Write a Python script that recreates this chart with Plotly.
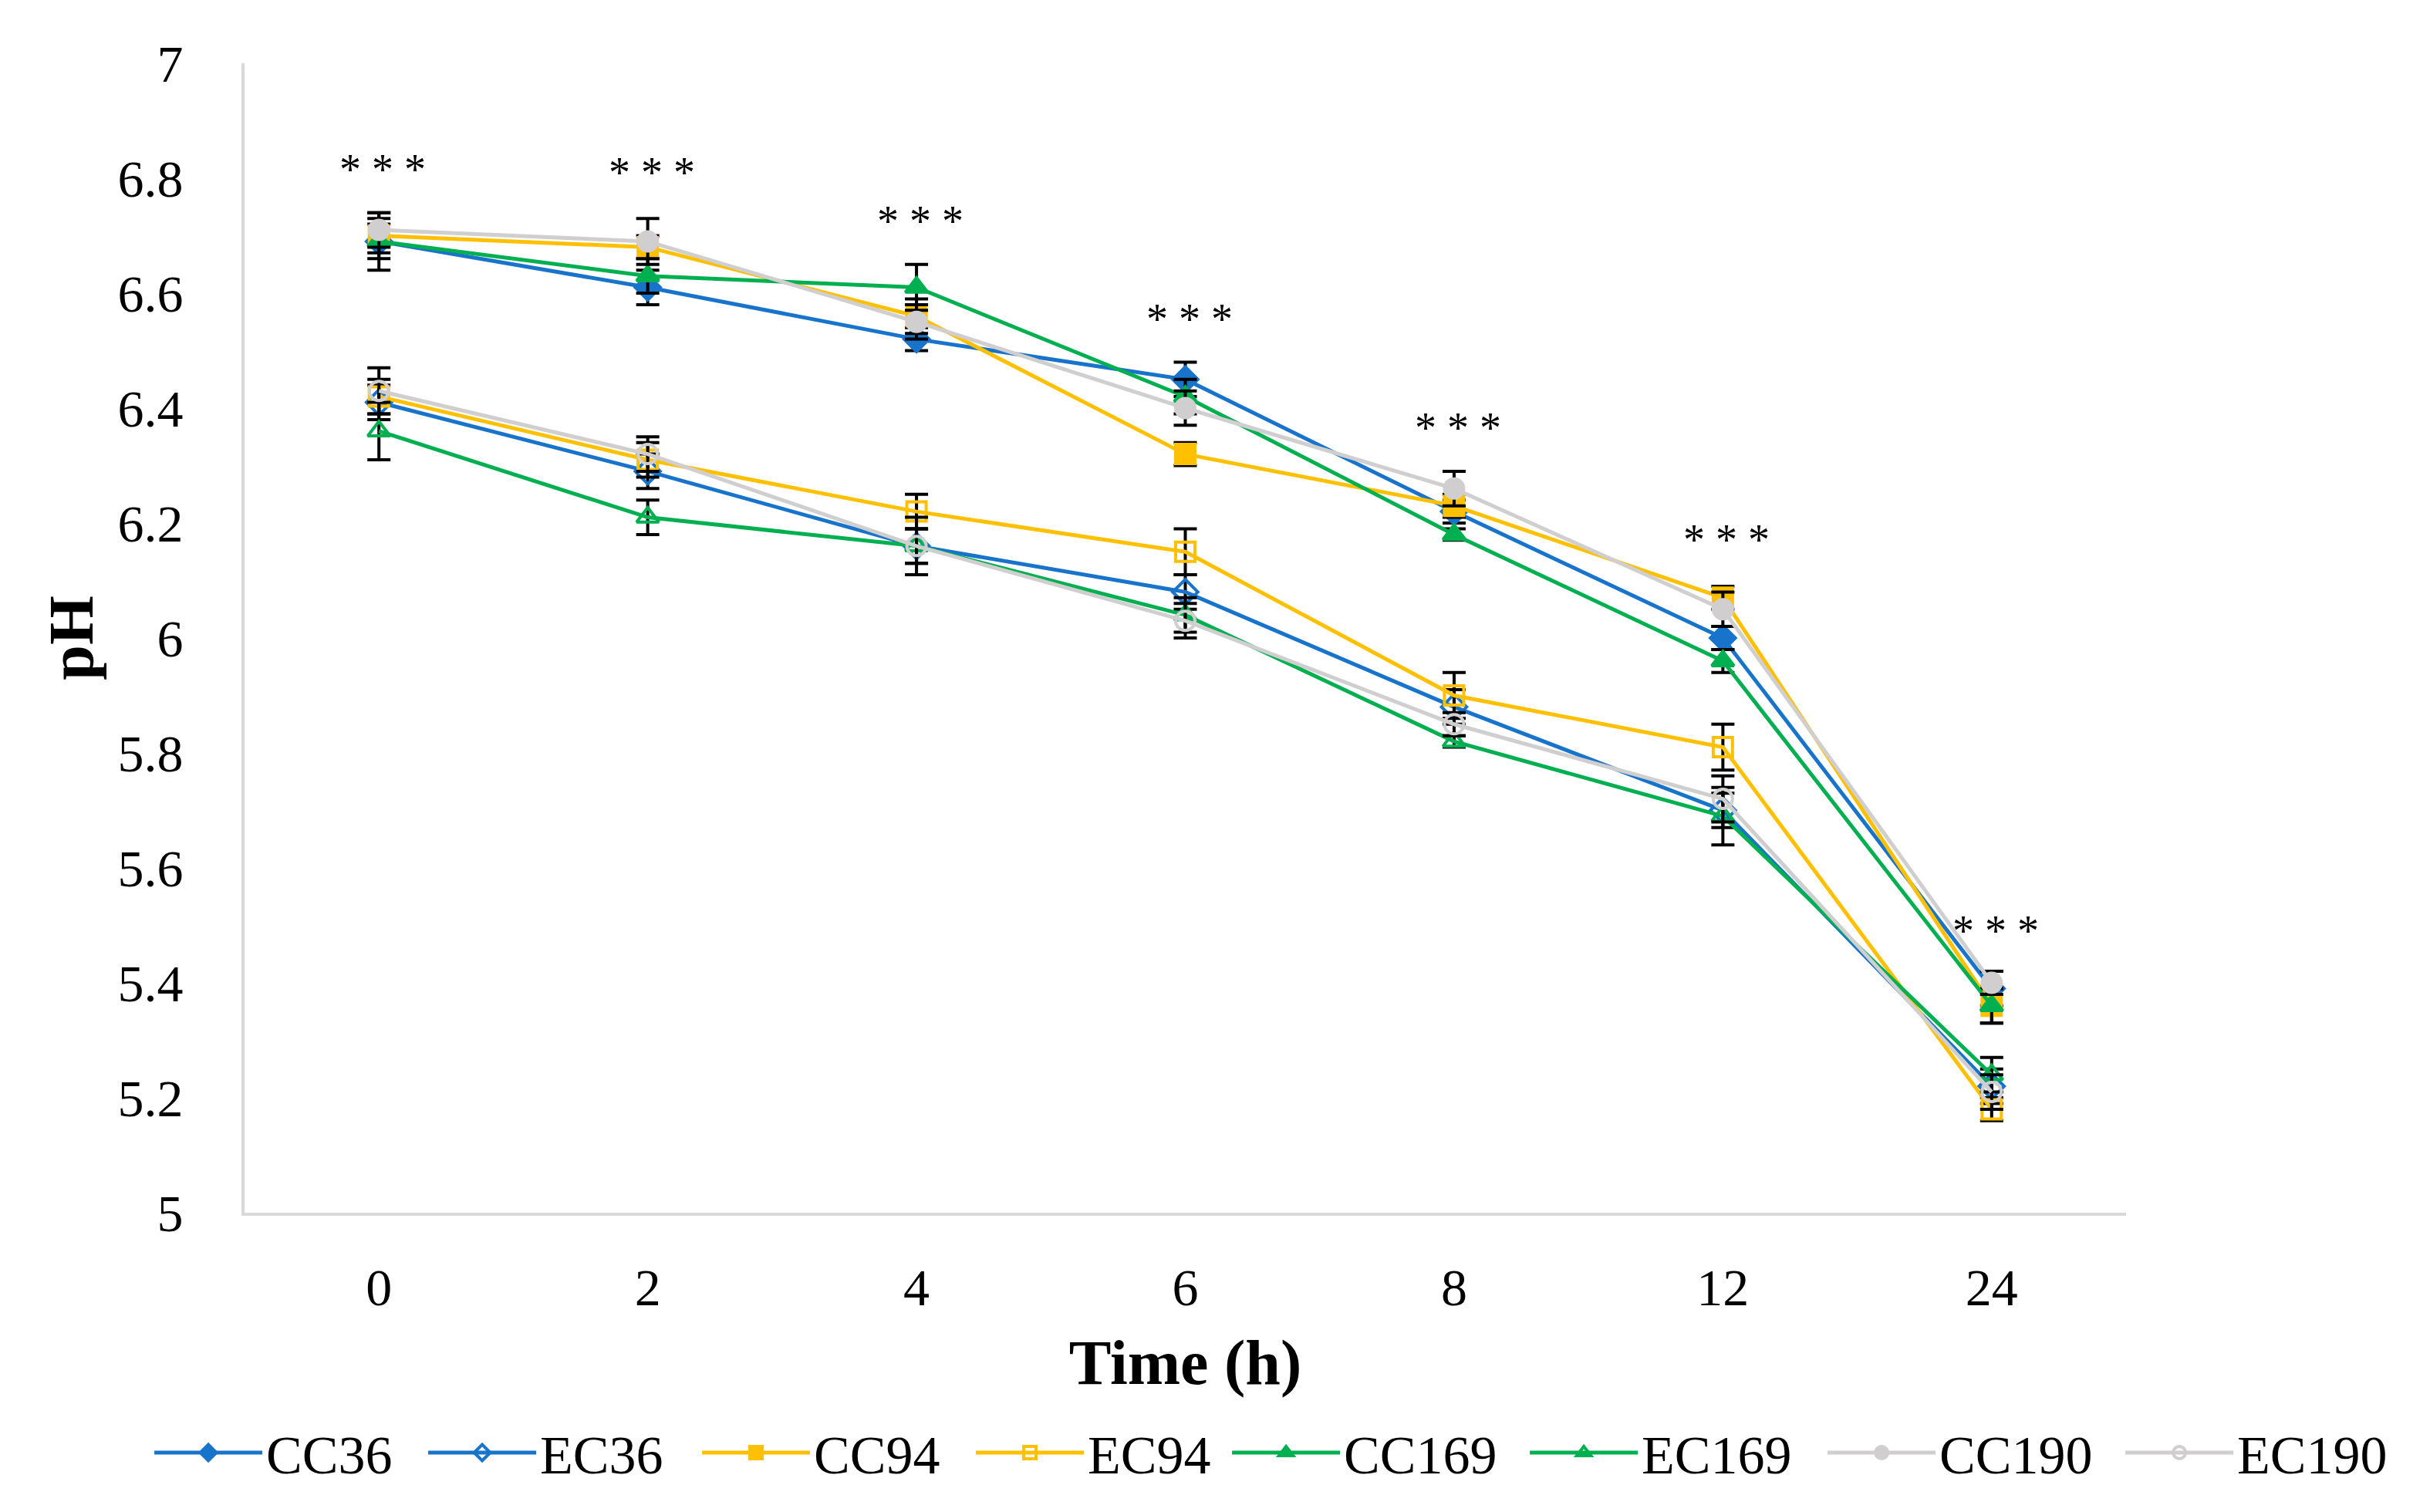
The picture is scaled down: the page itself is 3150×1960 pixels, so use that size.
import plotly.graph_objects as go

time_labels = ["0", "2", "4", "6", "8", "12", "24"]

series_names = ["CC36", "EC36", "CC94", "EC94", "CC169", "EC169", "CC190", "EC190"]

cc36 = [6.69, 6.61, 6.52, 6.45, 6.22, 6.00, 5.39]
ec36 = [6.41, 6.29, 6.16, 6.08, 5.88, 5.70, 5.22]
cc94 = [6.70, 6.68, 6.56, 6.32, 6.23, 6.07, 5.36]
ec94 = [6.42, 6.31, 6.22, 6.15, 5.90, 5.81, 5.18]
cc169 = [6.69, 6.63, 6.61, 6.42, 6.18, 5.96, 5.36]
ec169 = [6.36, 6.21, 6.16, 6.04, 5.82, 5.69, 5.24]
cc190 = [6.71, 6.69, 6.55, 6.40, 6.26, 6.05, 5.40]
ec190 = [6.43, 6.32, 6.16, 6.03, 5.85, 5.72, 5.21]

err_cc36 = [0.03, 0.03, 0.02, 0.03, 0.02, 0.02, 0.03]
err_ec36 = [0.03, 0.03, 0.03, 0.03, 0.03, 0.03, 0.03]
err_cc94 = [0.03, 0.02, 0.03, 0.02, 0.02, 0.02, 0.03]
err_ec94 = [0.03, 0.03, 0.03, 0.04, 0.04, 0.04, 0.02]
err_cc169 = [0.05, 0.03, 0.04, 0.03, 0.01, 0.02, 0.03]
err_ec169 = [0.05, 0.03, 0.05, 0.03, 0.01, 0.05, 0.03]
err_cc190 = [0.03, 0.04, 0.03, 0.03, 0.03, 0.03, 0.02]
err_ec190 = [0.04, 0.03, 0.03, 0.03, 0.02, 0.04, 0.03]

star_y = [6.815, 6.81, 6.725, 6.555, 6.365, 6.17, 5.49]

values = [cc36, ec36, cc94, ec94, cc169, ec169, cc190, ec190]
errors = [err_cc36, err_ec36, err_cc94, err_ec94, err_cc169, err_ec169, err_cc190, err_ec190]

blue = "#1874CB"
yellow = "#FFC000"
green = "#00B050"
gray = "#D0CECE"
colors = [blue, blue, yellow, yellow, green, green, gray, gray]
symbols = ["diamond", "diamond-open", "square", "square-open",
           "triangle-up", "triangle-up-open", "circle", "circle-open"]
legend_ids = ["legend", "legend", "legend", "legend",
              "legend2", "legend2", "legend2", "legend2"]

FONT = "Liberation Serif"

fig = go.Figure()
for name, y, e, c, s, lg in zip(series_names, values, errors, colors, symbols, legend_ids):
    fig.add_trace(go.Scatter(
        x=time_labels, y=y, name=name, mode="lines+markers", legend=lg,
        line=dict(color=c, width=5),
        marker=dict(symbol=s, size=25, color=c, line=dict(color=c, width=4)),
        error_y=dict(type="data", array=e, visible=True, color="black",
                     thickness=4, width=15),
    ))

for i, yv in enumerate(star_y):
    fig.add_annotation(x=i, y=yv, xref="x", yref="y", text="* * *", showarrow=False,
                       font=dict(family=FONT, size=56, color="black"),
                       xshift=5)

legend_common = dict(orientation="h", xref="paper", yref="paper",
                     xanchor="left", y=-0.2087, yanchor="middle",
                     font=dict(family=FONT, size=70, color="black"),
                     entrywidthmode="pixels", itemwidth=140, itemsizing="trace",
                     bgcolor="rgba(0,0,0,0)")

fig.update_layout(
    width=3150, height=1960,
    margin=dict(l=317, r=394, t=82, b=388, autoexpand=False),
    paper_bgcolor="white", plot_bgcolor="white",
    font=dict(family=FONT, color="black", size=68),
    showlegend=True,
    legend=dict(legend_common, x=-0.050, entrywidth=200),
    legend2=dict(legend_common, x=0.5228, entrywidth=231),
)
fig.update_xaxes(
    type="category", range=[-0.5, 6.5], showgrid=False, zeroline=False,
    showline=True, linecolor="#D9D9D9", linewidth=4,
    ticks="", ticklabelstandoff=34,
    tickfont=dict(family=FONT, size=68, color="black"),
    title=dict(text="<b>Time (h)</b>", font=dict(family=FONT, size=82, color="black"),
               standoff=32),
)
fig.update_yaxes(
    range=[5, 7], dtick=0.2, tick0=5, showgrid=False, zeroline=False,
    showline=True, linecolor="#D9D9D9", linewidth=4,
    ticks="", ticklabelstandoff=62,
    tickfont=dict(family=FONT, size=68, color="black"),
    title=dict(text="<b>pH</b>", font=dict(family=FONT, size=82, color="black"),
               standoff=6),
)

fig.write_html("out.html", config={"displayModeBar": False},
               post_script="document.body.style.margin='0';")
